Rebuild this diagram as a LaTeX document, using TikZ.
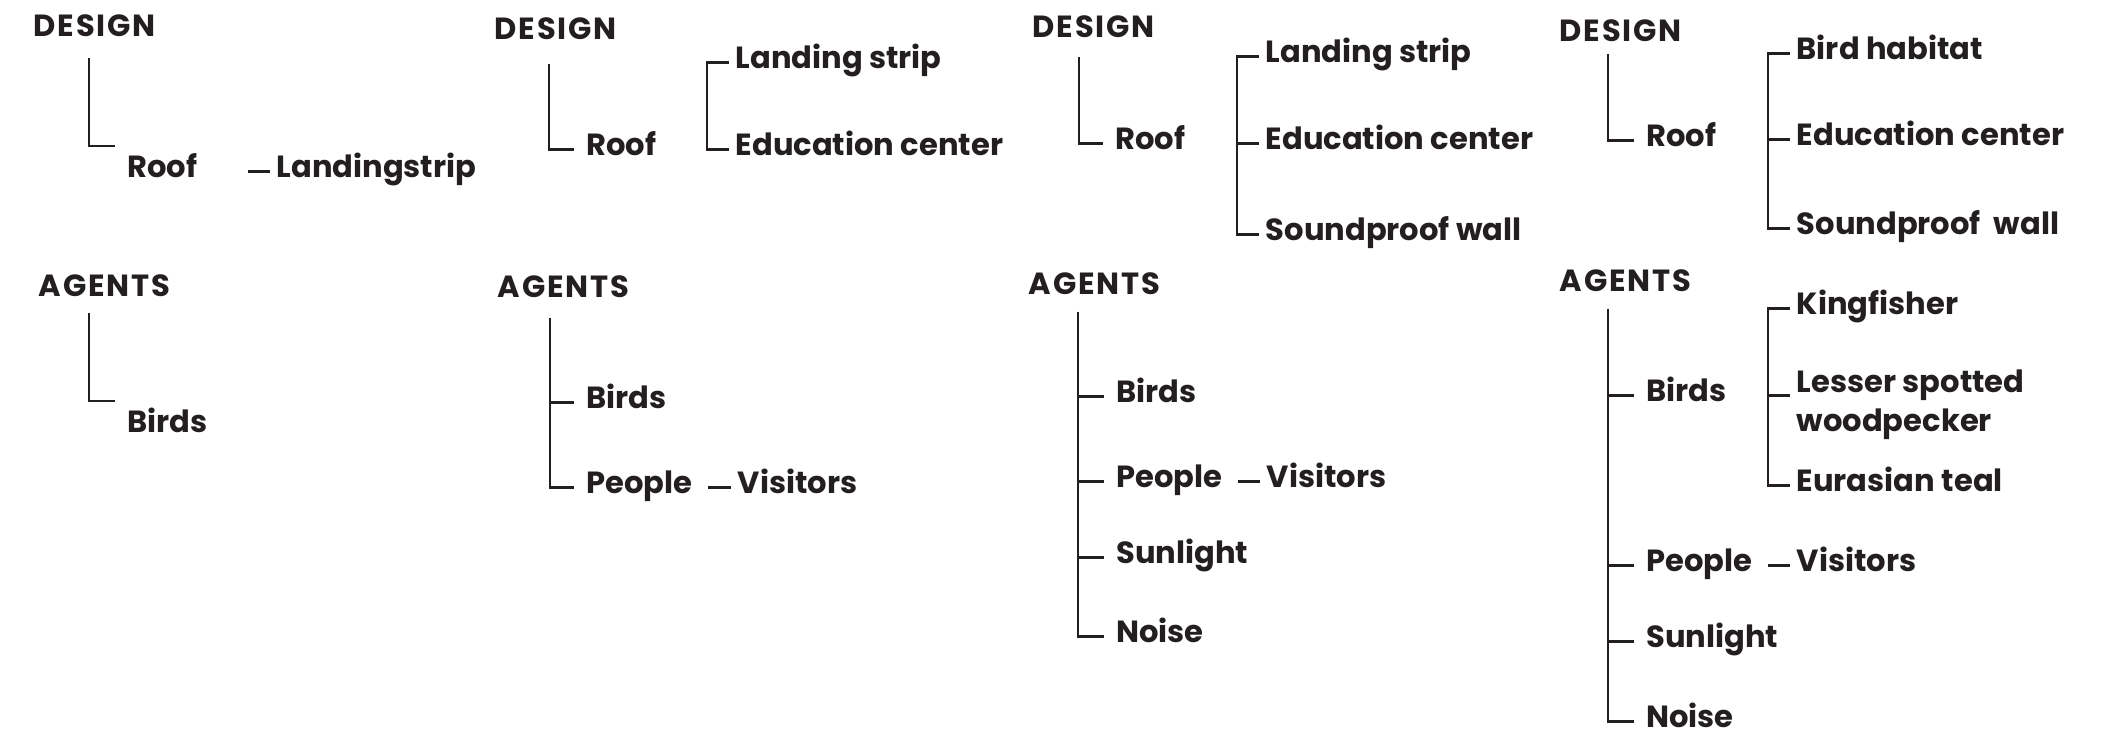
\documentclass[tikz,border=0pt]{standalone}
\usepackage{fontspec}
\setmainfont{Poppins}
\newfontfamily\headfont{Poppins}[LetterSpace=6.0]
\definecolor{ink}{HTML}{231F20}
\tikzstyle{txt} = [inner sep=0pt, text=ink, font=\bfseries\fontsize{8.7}{11.1}\selectfont]
\tikzstyle{head} = [txt, anchor=base west, font=\headfont\bfseries\fontsize{8.7}{11.1}\selectfont]
\tikzstyle{item} = [txt, anchor=base west, inner xsep=0.115cm, text height=3.7pt, text depth=0pt]
\tikzstyle{leaf} = [item, inner xsep=0.06cm]
\tikzstyle{line} = [draw=ink, line width=0.63pt]
\begin{document}
\begin{tikzpicture}[x=0.01cm, y=-0.01cm]
				\useasboundingbox (0,0) rectangle (2117,737);

				% first design
				\node [head] (d1) at (33,37) {DESIGN};
				\node [item] (roof1) at (115,178) {Roof};
				\node [leaf] (strip1) at (270,178) {Landingstrip};
				\coordinate (s1) at (89,58);
				\coordinate (e1) at (115,146);
				\path [line] (s1) |- (e1);
				\path [line] (strip1.west) -- ++(-22,0);

				% second design
				\node [head] (d2) at (494,40) {DESIGN};
				\node [item] (roof2) at (574,156) {Roof};
				\node [leaf] (strip2) at (729,69) {Landing strip};
				\node [leaf] (edu2) at (729,156) {Education center};
				\coordinate (s2) at (549,64);
				\path [line] (s2) |- (roof2.west);
				\path [line] (strip2.west) -- ++(-22,0) |- (edu2.west);

				% third design
				\node [head] (d3) at (1032,38) {DESIGN};
				\node [item] (roof3) at (1103,150) {Roof};
				\node [leaf] (strip3) at (1259,63) {Landing strip};
				\node [leaf] (edu3) at (1259,150) {Education center};
				\node [leaf] (wall3) at (1259,241) {Soundproof wall};
				\coordinate (s3) at (1079,57);
				\path [line] (s3) |- (roof3.west);
				\path [line] (strip3.west) -- ++(-22,0) |- (wall3.west);
				\path [line] (edu3.west) -- ++(-22,0);

				% fourth design
				\node [head] (d4) at (1559,42) {DESIGN};
				\node [item] (roof4) at (1634,147) {Roof};
				\node [leaf] (hab4) at (1790,60) {Bird habitat};
				\node [leaf] (edu4) at (1790,146) {Education center};
				\node [leaf] (wall4) at (1790,235) {Soundproof\ \ wall};
				\coordinate (s4) at (1608,54);
				\path [line] (s4) |- (roof4.west);
				\path [line] (hab4.west) -- ++(-22,0) |- (wall4.west);
				\path [line] (edu4.west) -- ++(-22,0);

				% first agents
				\node [head] (a1) at (38,297) {AGENTS};
				\node [item] (birds1) at (115,433) {Birds};
				\coordinate (s5) at (89,313);
				\coordinate (e5) at (115,401);
				\path [line] (s5) |- (e5);

				% second agents
				\node [head] (a2) at (497,298) {AGENTS};
				\node [item] (birds2) at (574,409) {Birds};
				\node [item] (people2) at (574,494) {People};
				\node [leaf] (vis2) at (731,494) {Visitors};
				\coordinate (s6) at (550,318);
				\path [line] (s6) |- (birds2.west);
				\path [line] (s6) |- (people2.west);
				\path [line] (vis2.west) -- ++(-23,0);

				% third agents
				\node [head] (a3) at (1028,295) {AGENTS};
				\node [item] (birds3) at (1104,403) {Birds};
				\node [item] (people3) at (1104,488) {People};
				\node [leaf] (vis3) at (1260,488) {Visitors};
				\node [item] (sun3) at (1104,564) {Sunlight};
				\node [item] (noise3) at (1104,643) {Noise};
				\coordinate (s7) at (1078,312);
				\path [line] (s7) |- (birds3.west);
				\path [line] (s7) |- (people3.west);
				\path [line] (s7) |- (sun3.west);
				\path [line] (s7) |- (noise3.west);
				\path [line] (vis3.west) -- ++(-22,0);

				% fourth agents
				\node [head] (a4) at (1559,292) {AGENTS};
				\node [item] (birds4) at (1634,402) {Birds};
				\node [leaf] (king4) at (1790,315) {Kingfisher};
				\node [txt, anchor=west, inner xsep=0.06cm, align=left] (wood4) at (1790,405) {Lesser spotted\\woodpecker};
				\node [leaf] (teal4) at (1790,492) {Eurasian teal};
				\node [item] (people4) at (1634,572) {People};
				\node [leaf] (vis4) at (1790,572) {Visitors};
				\node [item] (sun4) at (1634,648) {Sunlight};
				\node [item] (noise4) at (1634,728) {Noise};
				\coordinate (s8) at (1608,309);
				\path [line] (s8) |- (birds4.west);
				\path [line] (s8) |- (people4.west);
				\path [line] (s8) |- (sun4.west);
				\path [line] (s8) |- (noise4.west);
				\path [line] (king4.west) -- ++(-22,0) |- (teal4.west);
				\path [line] (wood4.west |- birds4.west) -- ++(-22,0);
				\path [line] (vis4.west) -- ++(-22,0);
			\end{tikzpicture}
\end{document}
